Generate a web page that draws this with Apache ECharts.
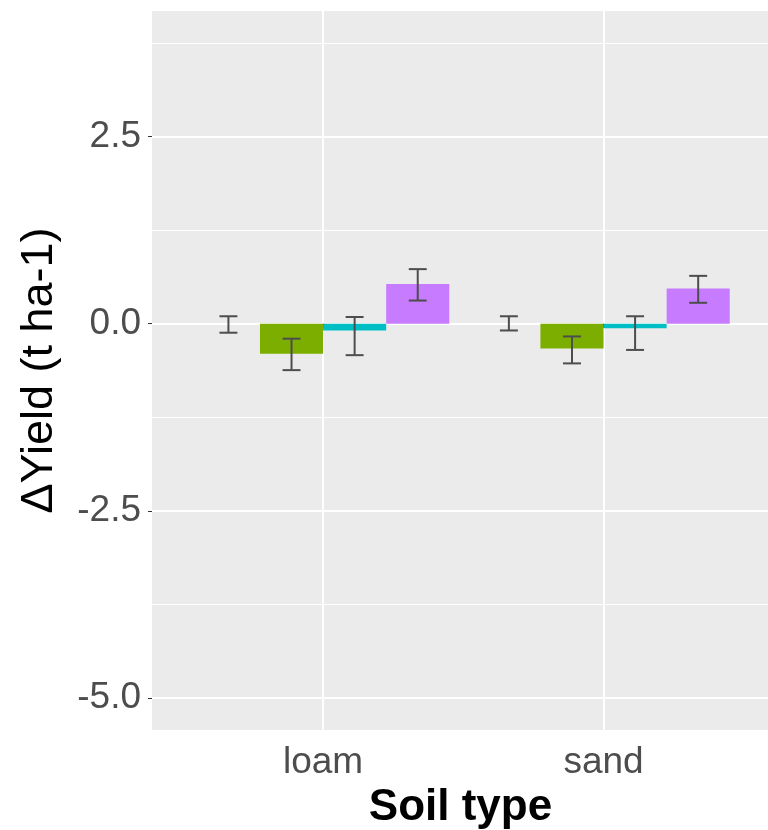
<!DOCTYPE html>
<html>
<head>
<meta charset="utf-8">
<script src="https://cdn.jsdelivr.net/npm/echarts@6/dist/echarts.min.js"></script>
<style>
  html, body { margin: 0; padding: 0; background: #ffffff; }
  #chart { width: 768px; height: 830px; }
</style>
</head>
<body>
<div id="chart"></div>
<script>
// Soil types on the x axis
const soilTypes = ['loam', 'sand'];

// Mean change in yield per treatment group (t ha-1), one value per soil type
const group1 = [0.00, 0.00];
const group2 = [-0.40, -0.33];
const group3 = [-0.09, -0.06];
const group4 = [0.53, 0.47];

// Error bar lower / upper limits, one pair per soil type
const group1Low = [-0.12, -0.09];
const group1High = [0.10, 0.10];
const group2Low = [-0.62, -0.53];
const group2High = [-0.20, -0.17];
const group3Low = [-0.42, -0.35];
const group3High = [0.09, 0.10];
const group4Low = [0.31, 0.28];
const group4High = [0.73, 0.64];

// Y tick labels
const yMajorTicks = [-5.0, -2.5, 0.0, 2.5];
const yMinorTicks = [-3.75, -1.25, 1.25, 3.75];

// Dodge layout: 4 bars sharing 0.9 of each category slot
const barW = 0.225;
const dodge = [-0.3375, -0.1125, 0.1125, 0.3375];
const capW = 0.064;

const groups = [
  { vals: group1, lo: group1Low, hi: group1High, color: '#F8766D' },
  { vals: group2, lo: group2Low, hi: group2High, color: '#7CAE00' },
  { vals: group3, lo: group3Low, hi: group3High, color: '#00BFC4' },
  { vals: group4, lo: group4Low, hi: group4High, color: '#C77CFF' }
];

const yMin = -5.43, yMax = 4.18;

const series = [];
groups.forEach((g, gi) => {
  series.push({
    type: 'custom',
    name: 'bars' + gi,
    xAxisIndex: 0, yAxisIndex: 0,
    z: 3,
    data: g.vals.map((v, ci) => [ci + 1 + dodge[gi], v]),
    renderItem: function (params, api) {
      const x = api.value(0), v = api.value(1);
      const a = api.coord([x - barW / 2, 0]);
      const b = api.coord([x + barW / 2, v]);
      return {
        type: 'rect',
        shape: { x: a[0], y: Math.min(a[1], b[1]), width: b[0] - a[0], height: Math.abs(b[1] - a[1]) },
        style: { fill: g.color }
      };
    }
  });
});
groups.forEach((g, gi) => {
  series.push({
    type: 'custom',
    name: 'err' + gi,
    xAxisIndex: 0, yAxisIndex: 0,
    z: 4,
    data: g.vals.map((v, ci) => [ci + 1 + dodge[gi], g.lo[ci], g.hi[ci]]),
    renderItem: function (params, api) {
      const x = api.value(0);
      const lo = api.coord([x, api.value(1)]);
      const hi = api.coord([x, api.value(2)]);
      const l = api.coord([x - capW / 2, 0])[0];
      const r = api.coord([x + capW / 2, 0])[0];
      const st = { stroke: '#4D4D4D', lineWidth: 2 };
      return {
        type: 'group',
        children: [
          { type: 'line', shape: { x1: lo[0], y1: lo[1], x2: hi[0], y2: hi[1] }, style: st },
          { type: 'line', shape: { x1: l, y1: lo[1], x2: r, y2: lo[1] }, style: st },
          { type: 'line', shape: { x1: l, y1: hi[1], x2: r, y2: hi[1] }, style: st }
        ]
      };
    }
  });
});

const chart = echarts.init(document.getElementById('chart'));
chart.setOption({
  animation: false,
  backgroundColor: '#ffffff',
  textStyle: { fontFamily: 'Liberation Sans' },
  grid: {
    left: 152, right: -1, top: 11, bottom: 100,
    outerBoundsMode: 'none', containLabel: false,
    show: true, backgroundColor: '#EBEBEB', borderWidth: 0
  },
  xAxis: [{
    type: 'value', min: 0.39, max: 2.59,
    name: 'Soil type', nameLocation: 'middle', nameGap: 54,
    nameTextStyle: { fontSize: 44, fontWeight: 'bold', color: '#000000', fontFamily: 'Liberation Sans' },
    axisLine: { show: false },
    axisTick: { show: true, length: 4, customValues: [1, 2], lineStyle: { color: '#333333', width: 1 } },
    axisLabel: {
      customValues: [1, 2], margin: 14,
      fontSize: 37, color: '#4D4D4D', fontFamily: 'Liberation Sans',
      formatter: v => soilTypes[Math.round(v) - 1]
    },
    splitLine: { show: true, lineStyle: { color: '#ffffff', width: 2 } }
  }],
  yAxis: [{
    type: 'value', min: yMin, max: yMax,
    name: 'ΔYield (t ha-1)', nameLocation: 'middle', nameGap: 90,
    nameTextStyle: { fontSize: 45, color: '#000000', fontFamily: 'Liberation Sans' },
    axisLine: { show: false },
    axisTick: { show: true, length: 4, customValues: yMajorTicks, lineStyle: { color: '#333333', width: 1 } },
    axisLabel: {
      customValues: yMajorTicks, margin: 11,
      fontSize: 37, color: '#4D4D4D', fontFamily: 'Liberation Sans',
      formatter: v => v.toFixed(1)
    },
    splitLine: { show: true, lineStyle: { color: '#ffffff', width: 2 } }
  }, {
    type: 'value', min: yMin, max: yMax, position: 'left',
    axisLine: { show: false },
    axisTick: { show: false, customValues: yMinorTicks },
    axisLabel: { show: false, customValues: yMinorTicks },
    splitLine: { show: true, lineStyle: { color: '#ffffff', width: 1 } }
  }],
  series: series
});
</script>
</body>
</html>
